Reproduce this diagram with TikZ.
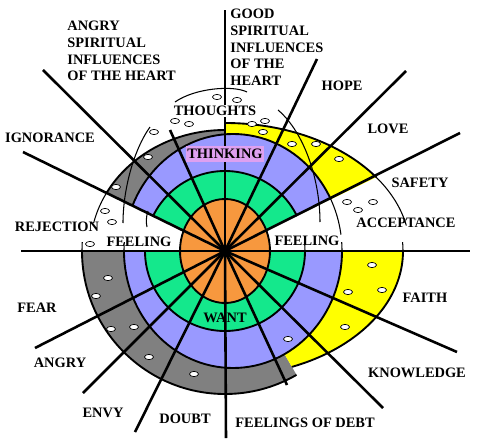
\documentclass[tikz,border=0pt]{standalone}
\usepackage{fontspec}
\setmainfont{Liberation Serif}
\definecolor{ringgray}{RGB}{128,128,128}
\definecolor{ringblue}{RGB}{153,153,255}
\definecolor{ringgreen}{RGB}{20,232,140}
\definecolor{ringorange}{RGB}{247,152,62}
\definecolor{ringyellow}{RGB}{255,255,0}
\definecolor{thinkpink}{RGB}{222,160,240}
\tikzset{
	lbl/.style={font=\bfseries\fontsize{12.3}{14.2}\selectfont, inner sep=1pt, align=left},
	spoke/.style={line width=2.2pt},
	band/.style={line width=1.6pt},
	thinarc/.style={line width=0.9pt},
	hole/.style={fill=white, draw=black, line width=0.6pt}
}
\begin{document}
\begin{tikzpicture}[x=0.03cm, y=0.03cm]
		\fill[white] (-225,-194) rectangle (256,251);
		\useasboundingbox (-225,-194) rectangle (256,251);
		\coordinate (o) at (0,0);
		\begin{scope}
			\clip (0,0) -- (26:400) arc[start angle=26, end angle=90, radius=400] -- cycle;
			\filldraw[band, fill=ringyellow] (0,0) ellipse[x radius=185, y radius=128];
		\end{scope}
		\begin{scope}
			\clip (0,0) -- (90:400) arc[start angle=90, end angle=154, radius=400] -- cycle;
			\filldraw[band, fill=ringgray] (0,0) ellipse[x radius=135, y radius=121];
		\end{scope}
		\begin{scope}
			\clip (0,0) -- (26:400) arc[start angle=26, end angle=154, radius=400] -- cycle;
			\filldraw[band, fill=ringblue] (8,0) ellipse[x radius=109, y radius=117];
			\filldraw[band, fill=ringgreen] (0,0) circle[radius=80];
		\end{scope}
		\begin{scope}
			\clip (0,0) -- (180:400) arc[start angle=180, end angle=300, radius=400] -- cycle;
			\filldraw[band, fill=ringgray] (0,0) circle[radius=143];
		\end{scope}
		\begin{scope}
			\clip (0,0) -- (300:400) arc[start angle=300, end angle=360, radius=400] -- cycle;
			\filldraw[band, fill=ringyellow] (0,0) ellipse[x radius=178, y radius=125];
		\end{scope}
		\begin{scope}
			\clip (0,0) -- (180:400) arc[start angle=180, end angle=360, radius=400] -- cycle;
			\filldraw[band, fill=ringblue] (8,0) ellipse[x radius=109, y radius=117];
			\filldraw[band, fill=ringgreen] (0,0) circle[radius=80];
		\end{scope}
		\filldraw[band, fill=ringorange] (0,0) ellipse[x radius=45, y radius=52];
		\begin{scope}
			\clip (0,0) -- (8:400) arc[start angle=8, end angle=27, radius=400] -- cycle;
			\draw[thinarc] (8,0) ellipse[x radius=109, y radius=117];
			\draw[thinarc] (0,0) ellipse[x radius=185, y radius=128];
		\end{scope}
		\begin{scope}
			\clip (0,0) -- (153:400) arc[start angle=153, end angle=168, radius=400] -- cycle;
			\draw[thinarc] (0,0) ellipse[x radius=135, y radius=121];
		\end{scope}
		\begin{scope}
			\clip (-300,0) rectangle (300,9);
			\draw[thinarc] (8,0) ellipse[x radius=109, y radius=117];
		\end{scope}
		\begin{scope}
			\clip (-300,0) rectangle (0,9);
			\draw[thinarc] (0,0) circle[radius=143];
		\end{scope}
		\begin{scope}
			\clip (0,0) rectangle (300,9);
			\draw[thinarc] (0,0) ellipse[x radius=178, y radius=125];
			\draw[thinarc] (0,0) circle[radius=80];
		\end{scope}
		\draw[thinarc] (-50,149) .. controls (-30,163) and (8,166) .. (22,159);
		\draw[thinarc] (-75,124) .. controls (-92,100) and (-102,60) .. (-102,28);
		\draw[thinarc] (53,141) .. controls (80,118) and (95,70) .. (95,29);
		\draw[thinarc] (-77,40) .. controls (-79,34) and (-79,29) .. (-78,24);
		\draw[spoke] (o) -- (-204,0);
		\draw[spoke] (o) -- (245,0);
		\draw[spoke] (o) -- (0,241);
		\draw[spoke] (o) -- (1,-187);
		\draw[spoke] (o) -- (92,192);
		\draw[spoke] (o) -- (181,180);
		\draw[spoke] (o) -- (235,118);
		\draw[spoke] (o) -- (-55,121);
		\draw[spoke] (o) -- (-182,181);
		\draw[spoke] (o) -- (-202,99);
		\draw[spoke] (o) -- (-190,-97);
		\draw[spoke] (o) -- (-142,-142);
		\draw[spoke] (o) -- (-90,-181);
		\draw[spoke] (o) -- (62,-134);
		\draw[spoke] (o) -- (158,-157);
		\draw[spoke] (o) -- (232,-101);
		\filldraw[hole] (-8,154) ellipse[x radius=4.5, y radius=2.6];
		\filldraw[hole] (12,151) ellipse[x radius=4.5, y radius=2.6];
		\filldraw[hole] (-50,130) ellipse[x radius=4.5, y radius=2.6];
		\filldraw[hole] (-36,127) ellipse[x radius=4.5, y radius=2.6];
		\filldraw[hole] (-71,119) ellipse[x radius=4.5, y radius=2.6];
		\filldraw[hole] (-77,94) ellipse[x radius=4.5, y radius=2.6];
		\filldraw[hole] (-109,64) ellipse[x radius=4.5, y radius=2.6];
		\filldraw[hole] (-120,40) ellipse[x radius=4.5, y radius=2.6];
		\filldraw[hole] (-113,29) ellipse[x radius=4.5, y radius=2.6];
		\filldraw[hole] (-135,7) ellipse[x radius=4.5, y radius=2.6];
		\filldraw[hole] (27,127) ellipse[x radius=4.5, y radius=2.6];
		\filldraw[hole] (40,130) ellipse[x radius=4.5, y radius=2.6];
		\filldraw[hole] (38,119) ellipse[x radius=4.5, y radius=2.6];
		\filldraw[hole] (67,107) ellipse[x radius=4.5, y radius=2.6];
		\filldraw[hole] (91,107) ellipse[x radius=4.5, y radius=2.6];
		\filldraw[hole] (114,92) ellipse[x radius=4.5, y radius=2.6];
		\filldraw[hole] (122,49) ellipse[x radius=4.5, y radius=2.6];
		\filldraw[hole] (133,41) ellipse[x radius=4.5, y radius=2.6];
		\filldraw[hole] (148,49) ellipse[x radius=4.5, y radius=2.6];
		\filldraw[hole] (-117,-27) ellipse[x radius=4.5, y radius=2.6];
		\filldraw[hole] (-129,-45) ellipse[x radius=4.5, y radius=2.6];
		\filldraw[hole] (-114,-78) ellipse[x radius=4.5, y radius=2.6];
		\filldraw[hole] (-91,-76) ellipse[x radius=4.5, y radius=2.6];
		\filldraw[hole] (-76,-106) ellipse[x radius=4.5, y radius=2.6];
		\filldraw[hole] (-31,-123) ellipse[x radius=4.5, y radius=2.6];
		\filldraw[hole] (63,-88) ellipse[x radius=4.5, y radius=2.6];
		\filldraw[hole] (147,-14) ellipse[x radius=4.5, y radius=2.6];
		\filldraw[hole] (123,-41) ellipse[x radius=4.5, y radius=2.6];
		\filldraw[hole] (157,-39) ellipse[x radius=4.5, y radius=2.6];
		\filldraw[hole] (120,-76) ellipse[x radius=4.5, y radius=2.6];
		\node[lbl, anchor=north west] (angryinf) at (-159,231) {ANGRY\\SPIRITUAL\\INFLUENCES\\OF THE HEART};
		\node[lbl, anchor=north west] (goodinf) at (4,243) {GOOD\\SPIRITUAL\\INFLUENCES\\OF THE\\HEART};
		\node[lbl, fill=white] (thoughts) at (-10,140) {THOUGHTS};
		\node[lbl, fill=thinkpink, inner ysep=2.5pt] (thinking) at (0,97) {THINKING};
		\node[lbl] (hope) at (117,165) {HOPE};
		\node[lbl] (love) at (163,122) {LOVE};
		\node[lbl] (safety) at (195,68) {SAFETY};
		\node[lbl] (acceptance) at (181,28) {ACCEPTANCE};
		\node[lbl] (ignorance) at (-175,113) {IGNORANCE};
		\node[lbl] (rejection) at (-168,24) {REJECTION};
		\node[lbl] (feelleft) at (-86,9) {FEELING};
		\node[lbl] (feelright) at (82,10) {FEELING};
		\node[lbl] (fear) at (-188,-57) {FEAR};
		\node[lbl] (angry) at (-165,-112) {ANGRY};
		\node[lbl] (envy) at (-122,-162) {ENVY};
		\node[lbl] (doubt) at (-40,-168) {DOUBT};
		\node[lbl] (debt) at (80,-172) {FEELINGS OF DEBT};
		\node[lbl] (want) at (0,-67) {WANT};
		\node[lbl] (faith) at (200,-47) {FAITH};
		\node[lbl] (knowledge) at (192,-122) {KNOWLEDGE};
	\end{tikzpicture}
\end{document}
